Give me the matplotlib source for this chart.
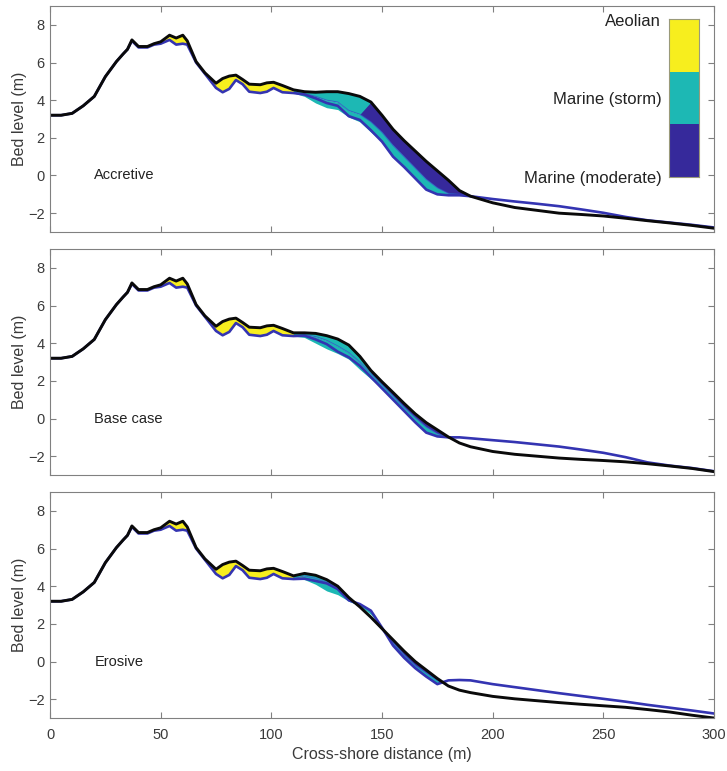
import numpy as np
import matplotlib
matplotlib.use("Agg")
import matplotlib.pyplot as plt
from matplotlib.colors import ListedColormap

plt.rcParams['font.family'] = ['Liberation Sans', 'DejaVu Sans']

# ---------------- data ----------------
x_dune = [0, 5, 10, 15, 20, 25, 30, 33, 35, 37, 40, 44, 47, 50, 54, 57, 60, 62, 66, 70,
          75, 78, 81, 84, 87, 90, 95, 98, 101, 105, 110]
final_dune = [3.2, 3.2, 3.3, 3.7, 4.2, 5.25, 6.05, 6.45, 6.7, 7.2, 6.85, 6.85, 7.0, 7.1, 7.45,
              7.3, 7.45, 7.15, 6.05, 5.45, 4.9, 5.15, 5.28, 5.33, 5.1, 4.85, 4.82, 4.92, 4.95,
              4.78, 4.55]
initial_dune = [3.2, 3.2, 3.3, 3.7, 4.2, 5.25, 6.05, 6.45, 6.7, 7.15, 6.8, 6.8, 6.95, 7.0, 7.2,
                6.95, 7.0, 6.95, 6.0, 5.4, 4.65, 4.42, 4.6, 5.07, 4.85, 4.45, 4.38, 4.45, 4.65,
                4.42, 4.38]

x_shore = [115, 120, 125, 130, 135, 140, 145, 150, 155, 160, 165, 170, 175, 180, 185, 190,
           200, 210, 220, 230, 240, 250, 260, 270, 280, 290, 300]

panel_names = ["Accretive", "Base case", "Erosive"]

final_accretive = [4.45, 4.42, 4.45, 4.45, 4.35, 4.2, 3.9, 3.2, 2.45, 1.85, 1.3, 0.75, 0.25, -0.25,
                   -0.8, -1.1, -1.45, -1.7, -1.85, -2.0, -2.07, -2.15, -2.27, -2.4, -2.52, -2.65, -2.8]
initial_accretive = [4.3, 4.1, 3.85, 3.7, 3.15, 2.95, 2.4, 1.8, 1.0, 0.45, -0.15, -0.75, -1.0, -1.05,
                     -1.05, -1.1, -1.25, -1.38, -1.5, -1.63, -1.8, -1.98, -2.2, -2.38, -2.5,
                     -2.62, -2.76]
storm_accretive = [4.35, 4.2, 4.0, 3.9, 3.45, 3.25, 2.85, 2.3, 1.6, 1.0, 0.4, -0.2, -0.65, -0.95,
                   -1.0, -1.1]
eroded_accretive = [4.2, 3.85, 3.6, 3.5, 3.1, 2.85, 2.3]

final_base = [4.55, 4.52, 4.4, 4.22, 3.9, 3.3, 2.55, 1.95, 1.38, 0.8, 0.25, -0.22, -0.6, -0.98,
              -1.3, -1.5, -1.75, -1.9, -2.0, -2.1, -2.17, -2.23, -2.3, -2.4, -2.52, -2.65, -2.82]
initial_base = [4.4, 4.2, 3.95, 3.55, 3.25, 2.8, 2.2, 1.6, 1.0, 0.4, -0.2, -0.75, -0.95, -1.0,
                -1.0, -1.05, -1.15, -1.25, -1.37, -1.49, -1.65, -1.82, -2.05, -2.33, -2.5,
                -2.63, -2.8]
storm_base = [4.45, 4.35, 4.15, 3.85, 3.5, 3.0, 2.4, 1.8, 1.2, 0.6, 0.05, -0.45, -0.8, -1.0,
              -1.3, -1.5]
eroded_base = [4.3, 4.0, 3.7, 3.45, 3.15, 2.6, 2.1]

final_erosive = [4.68, 4.58, 4.35, 4.0, 3.4, 2.9, 2.35, 1.75, 1.15, 0.55, 0.0, -0.45, -0.9, -1.3,
                 -1.52, -1.65, -1.85, -1.98, -2.08, -2.18, -2.27, -2.35, -2.43, -2.55, -2.68,
                 -2.85, -3.0]
initial_erosive = [4.4, 4.28, 4.15, 3.85, 3.25, 3.05, 2.7, 1.8, 0.85, 0.2, -0.35, -0.8, -1.2, -1.0,
                   -0.98, -1.0, -1.2, -1.36, -1.52, -1.68, -1.83, -1.98, -2.13, -2.3, -2.45,
                   -2.6, -2.76]
storm_erosive = [4.55, 4.42, 4.22, 3.9, 3.3, 2.9, 2.35, 1.7, 1.0, 0.35, -0.2, -0.6, -1.0, -1.3,
                 -1.52, -1.65]
eroded_erosive = [4.35, 4.1, 3.75, 3.55, 3.2, 2.95, 2.5]

legend_labels = ["Aeolian", "Marine (storm)", "Marine (moderate)"]
process_colors = ["#F7EE1E", "#1DB8B4", "#36299B"]
initial_color = "#3434B2"
final_color = "#0A0A0A"

x_ticks = [0, 50, 100, 150, 200, 250, 300]
y_ticks = [-2, 0, 2, 4, 6, 8]

# process zone limits along the profile (m)
aeolian_max = 110
storm_range = (110, 150)
moderate_range = (145, 190)

# ---------------- figure ----------------
fig = plt.figure(figsize=(7.27, 7.71), dpi=100)
left, width, height = 0.0688, 0.9133, 0.2931
bottoms = [0.6991, 0.3839, 0.0687]

x = np.array(x_dune + x_shore, dtype=float)
n_mid = len(storm_accretive)
n_low = len(eroded_accretive)

panels = [
    (final_accretive, initial_accretive, storm_accretive, eroded_accretive),
    (final_base, initial_base, storm_base, eroded_base),
    (final_erosive, initial_erosive, storm_erosive, eroded_erosive),
]

spine_col = "#808080"
text_col = "#3a3a3a"

axes = []
for i, (fin, ini, sto, ero) in enumerate(panels):
    ax = fig.add_axes([left, bottoms[i], width, height])
    axes.append(ax)
    z_final = np.array(final_dune + fin)
    z_init = np.array(initial_dune + ini)
    z_storm = np.array(initial_dune + sto + fin[n_mid:])
    z_low = np.array(initial_dune + ero + ini[n_low:])

    # eroded layer below initial (storm)
    ax.fill_between(x, z_low, z_init, where=(z_init > z_low), interpolate=True,
                    color=process_colors[1], lw=0)
    # storm deposition layer
    m = (x >= storm_range[0]) & (x <= moderate_range[1])
    ax.fill_between(x, z_init, z_storm, where=m & (z_storm > z_init), interpolate=True,
                    color=process_colors[1], lw=0)
    # top layer by process zone
    zones = [
        (x <= aeolian_max, process_colors[0]),
        ((x >= storm_range[0]) & (x <= storm_range[1]), process_colors[1]),
        ((x >= moderate_range[0]) & (x <= moderate_range[1]), process_colors[2]),
    ]
    for mask, col in zones:
        ax.fill_between(x, z_storm, z_final, where=mask & (z_final > z_storm),
                        interpolate=True, color=col, lw=0)

    sel = (x >= storm_range[0]) & (x <= moderate_range[1])
    ax.plot(x[sel], z_storm[sel], color="#2C5CC4", lw=0.8, alpha=0.8)
    ax.plot(x, z_init, color=initial_color, lw=1.9, solid_joinstyle='round')
    ax.plot(x, z_final, color=final_color, lw=2.1, solid_joinstyle='round')

    ax.set_xlim(0, 300)
    ax.set_ylim(-3, 9)
    ax.set_xticks(x_ticks)
    ax.set_yticks(y_ticks)
    ax.tick_params(direction='in', top=True, right=True, length=4, width=0.8,
                   color=spine_col, labelcolor=text_col, labelsize=10.5)
    ax.tick_params(axis='y', pad=4)
    ax.tick_params(axis='x', pad=7)
    for s in ax.spines.values():
        s.set_color(spine_col)
        s.set_linewidth(0.8)
    if i < 2:
        ax.set_xticklabels([])
    ax.set_ylabel("Bed level (m)", fontsize=11.5, color=text_col)
    ax.yaxis.set_label_coords(-0.035, 0.5)
    ax.text(20, 0, panel_names[i], ha='left', va='center', fontsize=10.5, color="#222222")

axes[-1].set_xlabel("Cross-shore distance (m)", fontsize=11.5, color=text_col)
axes[-1].xaxis.set_label_coords(0.5, -0.13)

# process legend (colour bar)
cax = fig.add_axes([0.920, 0.7708, 0.0413, 0.2046])
cax.imshow(np.arange(len(process_colors))[:, None], cmap=ListedColormap(process_colors),
           aspect='auto', interpolation='nearest')
cax.set_xticks([])
cax.set_yticks([])
for s in cax.spines.values():
    s.set_color("#9a9a7a")
    s.set_linewidth(0.8)
for lab, yy in zip(legend_labels, [0.985, 0.49, -0.01]):
    cax.text(-0.25, yy, lab, transform=cax.transAxes, ha='right', va='center',
             fontsize=12, color="#222222")

fig.savefig("out.png", dpi=100)
